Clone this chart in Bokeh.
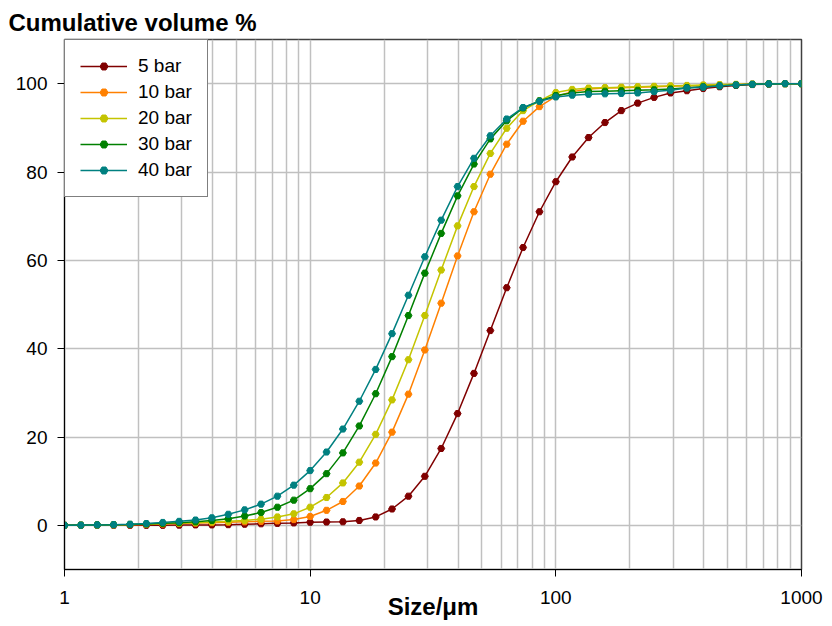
from bokeh.plotting import figure
from bokeh.models import FixedTicker, NumeralTickFormatter, Legend, Title
from bokeh.embed import file_html
from bokeh.resources import INLINE

size_um = [1.0, 1.166, 1.359, 1.585, 1.848, 2.154, 2.512, 2.929, 3.415, 3.981,
           4.642, 5.412, 6.310, 7.356, 8.577, 10.0, 11.66, 13.59, 15.85, 18.48,
           21.54, 25.12, 29.29, 34.15, 39.81, 46.42, 54.12, 63.10, 73.56, 85.77,
           100.0, 116.6, 135.9, 158.5, 184.8, 215.4, 251.2, 292.9, 341.5, 398.1,
           464.2, 541.2, 631.0, 735.6, 857.7, 1000.0]

bar5 = [0, 0, 0, 0, 0, 0, 0, 0.05, 0.1, 0.1,
        0.15, 0.25, 0.35, 0.45, 0.55, 0.7, 0.75, 0.8, 1.1, 1.9,
        3.7, 6.6, 11.1, 17.4, 25.3, 34.4, 44.1, 53.8, 62.9, 71.0,
        77.8, 83.4, 87.8, 91.2, 93.9, 95.6, 96.9, 97.9, 98.4, 98.9,
        99.3, 99.6, 99.8, 99.9, 100, 100]
bar10 = [0, 0, 0.05, 0.1, 0.15, 0.2, 0.3, 0.4, 0.5, 0.6,
         0.7, 0.8, 0.9, 1.0, 1.3, 2.0, 3.4, 5.4, 8.9, 14.1,
         21.1, 29.7, 39.7, 50.3, 61.0, 71.0, 79.5, 86.3, 91.5, 94.8,
         97.1, 98.2, 98.8, 99.0, 99.1, 99.2, 99.3, 99.4, 99.5, 99.6,
         99.7, 99.8, 99.9, 100, 100, 100]
bar20 = [0, 0.05, 0.1, 0.15, 0.2, 0.3, 0.4, 0.5, 0.6, 0.75,
         0.9, 1.1, 1.4, 1.9, 2.6, 4.1, 6.3, 9.6, 14.3, 20.6,
         28.4, 37.5, 47.5, 57.8, 67.8, 76.7, 84.2, 89.9, 93.9, 96.1,
         98.0, 98.7, 99.0, 99.1, 99.2, 99.3, 99.4, 99.5, 99.6, 99.7,
         99.8, 99.85, 99.9, 100, 100, 100]
bar30 = [0, 0.05, 0.1, 0.15, 0.2, 0.3, 0.45, 0.6, 0.8, 1.1,
         1.5, 2.1, 2.9, 4.1, 5.7, 8.3, 11.7, 16.4, 22.5, 29.8,
         38.2, 47.5, 57.1, 66.1, 74.6, 81.8, 87.5, 91.6, 94.5, 96.1,
         97.3, 97.9, 98.2, 98.3, 98.4, 98.5, 98.6, 98.8, 99.1, 99.3,
         99.5, 99.7, 99.85, 99.95, 100, 100]
bar40 = [0, 0.05, 0.1, 0.15, 0.25, 0.4, 0.65, 0.9, 1.2, 1.7,
         2.5, 3.5, 4.8, 6.6, 9.1, 12.4, 16.6, 21.8, 28.1, 35.3,
         43.4, 52.1, 60.8, 69.1, 76.7, 83.1, 88.2, 92.0, 94.6, 96.0,
         97.0, 97.4, 97.6, 97.7, 97.8, 97.9, 98.2, 98.5, 99.0, 99.2,
         99.5, 99.7, 99.85, 99.95, 100, 100]

series_names = ["5 bar", "10 bar", "20 bar", "30 bar", "40 bar"]
series_values = [bar5, bar10, bar20, bar30, bar40]
series_colors = ["#800000", "#FF8000", "#C4C400", "#008000", "#008080"]

x_major = [1, 10, 100, 1000]
x_minor = [2, 3, 4, 5, 6, 7, 8, 9, 20, 30, 40, 50, 60, 70, 80, 90,
           200, 300, 400, 500, 600, 700, 800, 900]
y_major = [0, 20, 40, 60, 80, 100]

FONT = "Liberation Sans"

p = figure(width=832, height=626, x_axis_type="log", x_range=(1, 1000), y_range=(-10, 110),
           output_backend="svg", toolbar_location=None,
           min_border_left=64, min_border_right=31, min_border_top=39, min_border_bottom=57)
p.title.visible = False
p.add_layout(Title(text="Cumulative volume %", align="left", offset=-56,
                   text_font=FONT, text_font_size="24px", text_font_style="bold",
                   text_color="black", standoff=8), "above")

xt = FixedTicker(ticks=x_major, minor_ticks=x_minor)
p.xaxis.ticker = xt
p.xgrid.ticker = xt
yt = FixedTicker(ticks=y_major)
p.yaxis.ticker = yt
p.ygrid.ticker = yt
p.xaxis.formatter = NumeralTickFormatter(format="0")

for ax in (p.xaxis, p.yaxis):
    ax.axis_line_color = "black"
    ax.axis_line_width = 1
    ax.major_tick_line_color = "black"
    ax.major_tick_out = 7
    ax.major_tick_in = 0
    ax.minor_tick_out = 0
    ax.minor_tick_in = 0
    ax.major_label_text_font = FONT
    ax.major_label_text_font_size = "19px"
    ax.major_label_text_color = "black"
p.yaxis.major_label_standoff = 10
p.xaxis.major_label_standoff = 14

p.xaxis.axis_label = "Size/\u03bcm"
p.xaxis.axis_label_text_font = FONT
p.xaxis.axis_label_text_font_size = "24px"
p.xaxis.axis_label_text_font_style = "bold"
p.xaxis.axis_label_text_color = "black"
p.xaxis.axis_label_standoff = -14

p.xgrid.grid_line_color = "#c0c0c0"
p.xgrid.minor_grid_line_color = "#c0c0c0"
p.xgrid.grid_line_width = 1.5
p.xgrid.minor_grid_line_width = 1.5
p.ygrid.grid_line_color = "#c0c0c0"
p.ygrid.grid_line_width = 1.5

p.outline_line_color = "#404040"
p.outline_line_width = 1.5
p.background_fill_color = "white"
p.border_fill_color = "white"

items = []
for name, vals, col in zip(series_names, series_values, series_colors):
    r1 = p.line(size_um, vals, line_color=col, line_width=1.5)
    r2 = p.scatter(size_um, vals, marker="hex", size=7,
                   fill_color=col, line_color=col, line_width=1)
    items.append((name, [r1, r2]))

legend = Legend(items=items, location="top_left", margin=0, padding=15, spacing=4,
                label_height=20, glyph_height=20, glyph_width=47, label_standoff=11,
                label_text_font=FONT, label_text_font_size="19px", label_text_color="black",
                border_line_color="black", border_line_width=1,
                background_fill_color="white", background_fill_alpha=1.0)
p.add_layout(legend, "center")

open("out.html", "w").write(file_html(p, INLINE))
